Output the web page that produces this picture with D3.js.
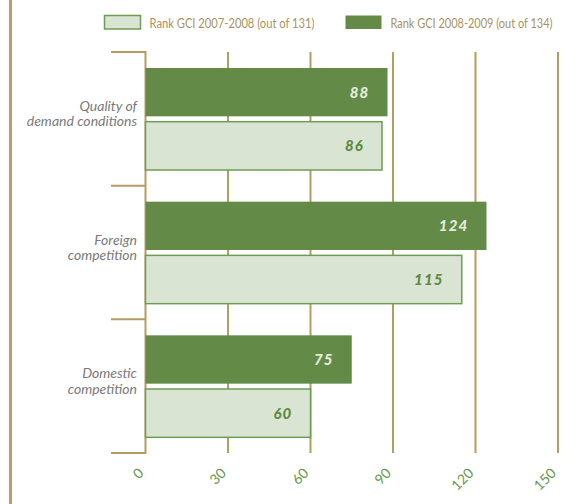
<!DOCTYPE html>
<html>
<head>
<meta charset="utf-8">
<script src="https://cdn.jsdelivr.net/npm/d3@7/dist/d3.min.js"></script>
<style>
  html, body { margin: 0; padding: 0; background: #ffffff; }
  svg { display: block; }
</style>
</head>
<body>
<svg id="chart" width="579" height="504"></svg>
<script>
// Competitiveness indicators and their GCI ranks
const categories = ["Quality of demand conditions", "Foreign competition", "Domestic competition"];
const categoryLines = [["Quality of", "demand conditions"], ["Foreign", "competition"], ["Domestic", "competition"]];
const seriesNames = ["Rank GCI 2008-2009 (out of 134)", "Rank GCI 2007-2008 (out of 131)"];
const rank2008 = [88, 124, 75];
const rank2007 = [86, 115, 60];
const tickValues = [0, 30, 60, 90, 120, 150];

const legendOrder = ["Rank GCI 2007-2008 (out of 131)", "Rank GCI 2008-2009 (out of 134)"];

const colors = {
  dark: "#638b47",
  light: "#d9e5d2",
  lightStroke: "#6e9c55",
  axis: "#b49c63",
  frame: "#b8a167",
  legendText: "#a8925f",
  catText: "#7a7a7a",
  tickText: "#67984c",
  darkLabel: "#e3ebdd",
  lightLabel: "#5e8b43"
};

const svg = d3.select("#chart");

const x = d3.scaleLinear().domain([0, 150]).range([145.5, 558]);
const y = d3.scaleBand().domain(categories).range([52, 453]).paddingInner(0).paddingOuter(0);
const inner = d3.scaleBand().domain(seriesNames).range([16, 118]).paddingInner(0.1);

const values = { [seriesNames[0]]: rank2008, [seriesNames[1]]: rank2007 };

// Left frame rule
svg.append("line")
  .attr("x1", 10.5).attr("x2", 10.5).attr("y1", 0).attr("y2", 504)
  .attr("stroke", colors.frame).attr("stroke-width", 3);

// Vertical gridlines
svg.append("g").selectAll("line")
  .data(tickValues.slice(1))
  .join("line")
  .attr("x1", d => x(d)).attr("x2", d => x(d))
  .attr("y1", y.range()[0]).attr("y2", y.range()[1])
  .attr("stroke", colors.axis).attr("stroke-width", 2);

// Category axis: spine and boundary ticks
const boundaries = categories.map(c => y(c)).concat([y.range()[1]]);
const catAxis = svg.append("g");
catAxis.append("line")
  .attr("x1", x(0)).attr("x2", x(0))
  .attr("y1", y.range()[0] - 1).attr("y2", y.range()[1] + 1)
  .attr("stroke", colors.axis).attr("stroke-width", 2);
catAxis.selectAll("line.tick")
  .data(boundaries)
  .join("line")
  .attr("class", "tick")
  .attr("x1", x(0) - 34.5).attr("x2", x(0))
  .attr("y1", d => d).attr("y2", d => d)
  .attr("stroke", colors.axis).attr("stroke-width", 2);

// Bars
const groups = svg.append("g").selectAll("g")
  .data(categories)
  .join("g")
  .attr("transform", d => `translate(0,${y(d)})`);

groups.selectAll("rect")
  .data((c, i) => seriesNames.map(s => ({ s, v: values[s][i] })))
  .join("rect")
  .attr("x", x(0))
  .attr("y", d => inner(d.s))
  .attr("width", d => x(d.v) - x(0))
  .attr("height", inner.bandwidth())
  .attr("fill", d => d.s === seriesNames[0] ? colors.dark : colors.light)
  .attr("stroke", d => d.s === seriesNames[0] ? "none" : colors.lightStroke)
  .attr("stroke-width", 1.5);

// Value labels inside the bars
groups.selectAll("text.value")
  .data((c, i) => seriesNames.map(s => ({ s, v: values[s][i] })))
  .join("text")
  .attr("class", "value")
  .attr("x", d => x(d.v) - 18)
  .attr("y", d => inner(d.s) + inner.bandwidth() / 2)
  .attr("dy", "0.36em")
  .attr("text-anchor", "end")
  .attr("font-family", "Lato, sans-serif")
  .attr("font-style", "italic")
  .attr("font-weight", 900)
  .attr("font-size", 15)
  .attr("letter-spacing", 1.2)
  .attr("fill", d => d.s === seriesNames[0] ? colors.darkLabel : colors.lightLabel)
  .text(d => d.v);

// Category labels
svg.append("g").selectAll("text")
  .data(categories)
  .join("text")
  .attr("text-anchor", "end")
  .attr("font-family", "Lato, sans-serif")
  .attr("font-style", "italic")
  .attr("font-size", 14)
  .attr("fill", colors.catText)
  .each(function (c, i) {
    const mid = y(c) + y.bandwidth() / 2;
    d3.select(this).selectAll("tspan")
      .data(categoryLines[i])
      .join("tspan")
      .attr("x", 137)
      .attr("y", (d, j) => mid - 8 + j * 15.5)
      .text(d => d);
  });

// Value axis tick labels, rotated
svg.append("g").selectAll("text")
  .data(tickValues)
  .join("text")
  .attr("transform", d => `translate(${x(d) - 1},474) rotate(-45)`)
  .attr("text-anchor", "end")
  .attr("font-family", "Lato, sans-serif")
  .attr("font-size", 14)
  .attr("fill", colors.tickText)
  .text(d => d);

// Legend
const legendX = [104.5, 345.5];
const legend = svg.append("g").selectAll("g")
  .data(legendOrder)
  .join("g")
  .attr("transform", (d, i) => `translate(${legendX[i]},15.5)`);
legend.append("rect")
  .attr("width", 36).attr("height", 13.5)
  .attr("fill", d => d === seriesNames[0] ? colors.dark : colors.light)
  .attr("stroke", d => d === seriesNames[0] ? "none" : colors.lightStroke)
  .attr("stroke-width", 1.5);
legend.append("text")
  .attr("x", 45)
  .attr("y", 12.5)
  .attr("font-family", "Lato, sans-serif")
  .attr("font-size", 12.5)
  .attr("fill", colors.legendText)
  .attr("textLength", (d, i) => i === 0 ? 165 : 162)
  .attr("lengthAdjust", "spacingAndGlyphs")
  .text(d => d);
</script>
</body>
</html>
